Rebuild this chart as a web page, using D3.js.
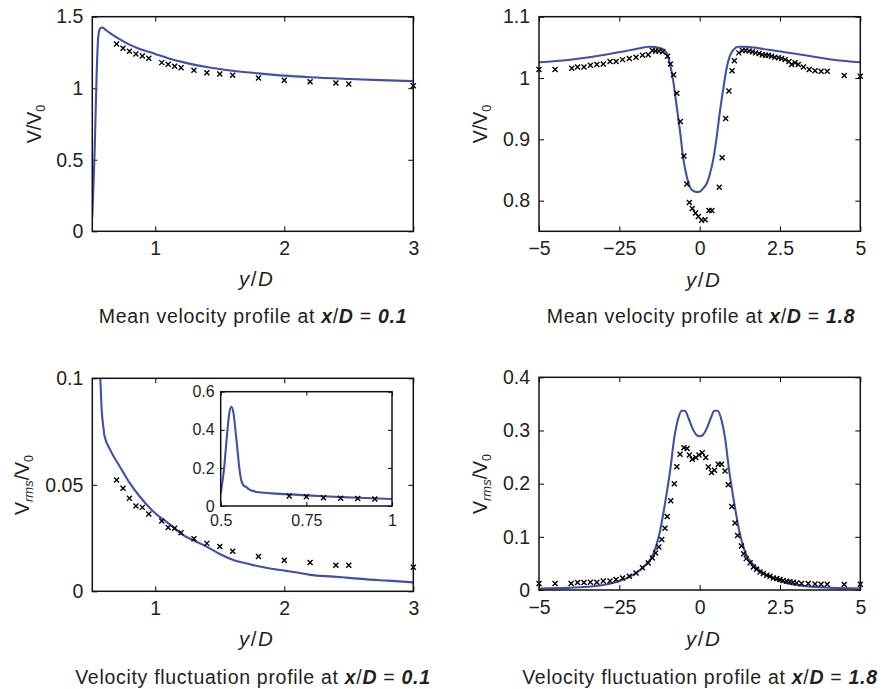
<!DOCTYPE html>
<html><head><meta charset="utf-8">
<script src="https://cdn.jsdelivr.net/npm/d3@7"></script>
<style>
body{margin:0;background:#fff}
svg text{font-family:"Liberation Sans",Arial,Helvetica,sans-serif;fill:#231f20}
</style>
</head><body>
<svg id="c" width="882" height="689"></svg>
<script>
// ---------- DATA ----------
// Panel 1: mean velocity at x/D = 0.1
const meanNearCurve = [[0.512,0.10],[0.53,0.55],[0.545,1.08],[0.555,1.32],[0.565,1.40],[0.575,1.42],[0.59,1.425],[0.61,1.412],[0.65,1.385],[0.71,1.35],[0.8,1.305],[0.87,1.278],[1.0,1.24],[1.1,1.21],[1.2,1.186],[1.3,1.165],[1.4,1.148],[1.5,1.134],[1.6,1.122],[1.8,1.104],[2.0,1.088],[2.2,1.077],[2.5,1.065],[2.8,1.055],[3.0,1.05]];
const meanNearExp = [[0.7,1.309],[0.75,1.279],[0.8,1.258],[0.85,1.239],[0.9,1.225],[0.95,1.209],[1.05,1.179],[1.1,1.167],[1.15,1.153],[1.2,1.144],[1.3,1.125],[1.4,1.109],[1.5,1.100],[1.6,1.091],[1.8,1.072],[2.0,1.056],[2.2,1.046],[2.4,1.037],[2.5,1.030],[3.0,1.018]];

// Panel 2: mean velocity at x/D = 1.8
const meanFarCurve = [[-5,1.0257],[-4.09,1.0295],[-3.05,1.037],[-2.01,1.047],[-1.55,1.051],[-1.23,1.049],[-1.03,1.041],[-0.92,1.022],[-0.82,0.9945],[-0.72,0.956],[-0.61,0.913],[-0.51,0.869],[-0.40,0.839],[-0.30,0.822],[-0.20,0.816],[-0.09,0.814],[0.01,0.815],[0.11,0.820],[0.22,0.828],[0.32,0.844],[0.43,0.869],[0.53,0.904],[0.63,0.945],[0.74,0.984],[0.84,1.016],[0.94,1.036],[1.05,1.046],[1.20,1.051],[1.41,1.051],[2.14,1.046],[3.17,1.038],[4.21,1.0295],[5,1.0257]];
const meanFarExp = [[-5.0,1.0137],[-4.5,1.0137],[-3.98,1.016],[-3.8,1.018],[-3.6,1.018],[-3.4,1.021],[-3.2,1.022],[-3.0,1.023],[-2.79,1.027],[-2.6,1.027],[-2.4,1.030],[-2.19,1.032],[-1.98,1.034],[-1.78,1.037],[-1.6,1.038],[-1.47,1.045],[-1.37,1.044],[-1.27,1.044],[-1.15,1.043],[-1.0,1.0355],[-0.91,1.023],[-0.81,1.0055],[-0.71,0.975],[-0.60,0.929],[-0.49,0.873],[-0.40,0.827],[-0.32,0.797],[-0.23,0.787],[-0.13,0.780],[-0.04,0.774],[0.06,0.768],[0.17,0.769],[0.29,0.784],[0.38,0.784],[0.61,0.822],[0.70,0.870],[0.81,0.934],[0.91,0.979],[1.01,1.012],[1.08,1.028],[1.22,1.041],[1.33,1.045],[1.43,1.045],[1.54,1.044],[1.64,1.043],[1.74,1.041],[1.85,1.040],[1.95,1.038],[2.05,1.037],[2.14,1.037],[2.24,1.0355],[2.34,1.034],[2.45,1.033],[2.55,1.032],[2.66,1.030],[2.78,1.027],[2.86,1.022],[2.97,1.025],[3.07,1.022],[3.23,1.018],[3.41,1.0137],[3.59,1.012],[3.78,1.011],[3.97,1.011],[4.5,1.004],[5.0,1.003]];

// Panel 3 (and inset): velocity fluctuation at x/D = 0.1
const rmsNearCurve = [[0.5,0.066],[0.51,0.2],[0.518,0.364],[0.525,0.486],[0.531,0.521],[0.537,0.49],[0.543,0.40],[0.549,0.294],[0.555,0.19],[0.56,0.135],[0.566,0.11],[0.574,0.1],[0.585,0.085],[0.6,0.076],[0.605,0.0734],[0.65,0.0665],[0.726,0.0585],[0.8,0.051],[0.881,0.0444],[1.0,0.0366],[1.1,0.032],[1.217,0.0264],[1.3,0.0238],[1.398,0.021],[1.5,0.0175],[1.605,0.0147],[1.708,0.0131],[1.81,0.0116],[1.9,0.0106],[2.0,0.0097],[2.1,0.0088],[2.2,0.0077],[2.38,0.0069],[2.5,0.0063],[2.64,0.0056],[2.8,0.005],[3.0,0.0042]];
const rmsNearExp = [[0.7,0.0523],[0.75,0.0484],[0.8,0.0437],[0.85,0.0401],[0.9,0.0394],[0.95,0.0363],[1.05,0.0330],[1.1,0.0300],[1.15,0.0296],[1.2,0.0275],[1.3,0.0247],[1.4,0.0225],[1.5,0.0210],[1.6,0.0188],[1.8,0.0163],[2.0,0.0146],[2.2,0.0135],[2.4,0.0122],[2.5,0.0122],[3.0,0.0113]];

// Panel 4: velocity fluctuation at x/D = 1.8
const rmsFarCurve = [[-5,0.0028],[-4.09,0.004],[-3.05,0.009],[-2.43,0.0184],[-2.01,0.031],[-1.70,0.046],[-1.44,0.068],[-1.23,0.112],[-1.08,0.162],[-0.92,0.224],[-0.79,0.286],[-0.66,0.324],[-0.56,0.337],[-0.46,0.337],[-0.35,0.324],[-0.23,0.305],[-0.11,0.2925],[0,0.289],[0.11,0.2925],[0.23,0.305],[0.35,0.324],[0.46,0.337],[0.56,0.337],[0.66,0.324],[0.79,0.286],[0.92,0.224],[1.08,0.162],[1.23,0.112],[1.44,0.068],[1.70,0.046],[2.01,0.031],[2.43,0.0184],[3.05,0.009],[4.09,0.004],[5,0.0028]];
const rmsFarExp = [[-5,0.0121],[-4.5,0.0121],[-4.0,0.0121],[-3.8,0.014],[-3.6,0.014],[-3.4,0.0146],[-3.2,0.0146],[-3.0,0.0171],[-2.79,0.0171],[-2.6,0.0196],[-2.4,0.0227],[-2.19,0.0259],[-1.98,0.032],[-1.78,0.042],[-1.6,0.0508],[-1.47,0.060],[-1.37,0.0695],[-1.27,0.0807],[-1.18,0.095],[-1.08,0.116],[-1.01,0.138],[-0.90,0.168],[-0.79,0.200],[-0.71,0.232],[-0.61,0.2555],[-0.49,0.2676],[-0.39,0.266],[-0.32,0.254],[-0.23,0.246],[-0.12,0.249],[-0.02,0.254],[0.08,0.258],[0.19,0.249],[0.27,0.2315],[0.37,0.221],[0.46,0.225],[0.58,0.2365],[0.68,0.2365],[0.79,0.224],[0.89,0.198],[1.0,0.157],[1.10,0.126],[1.18,0.1025],[1.30,0.0826],[1.37,0.068],[1.45,0.059],[1.57,0.0514],[1.67,0.0433],[1.77,0.039],[1.88,0.034],[1.98,0.0308],[2.09,0.0277],[2.19,0.0259],[2.29,0.0227],[2.40,0.0215],[2.50,0.0196],[2.60,0.0178],[2.71,0.0165],[2.81,0.0153],[2.91,0.0146],[3.02,0.0134],[3.17,0.0121],[3.38,0.0121],[3.59,0.0115],[3.78,0.0109],[3.97,0.0109],[4.5,0.0103],[5.0,0.0109]];

// Ticks
const nearXTicks = [1,2,3], nearXLabels = ["1","2","3"];
const farXTicks = [-5,-2.5,0,2.5,5], farXLabels = ["\u22125","\u221225","0","2.5","5"];
const meanNearYTicks = [0,0.5,1,1.5], meanNearYLabels = ["0","0.5","1","1.5"];
const meanFarYTicks = [0.8,0.9,1,1.1], meanFarYLabels = ["0.8","0.9","1","1.1"];
const rmsNearYTicks = [0,0.05,0.1], rmsNearYLabels = ["0","0.05","0.1"];
const rmsFarYTicks = [0,0.1,0.2,0.3,0.4], rmsFarYLabels = ["0","0.1","0.2","0.3","0.4"];
const insetXTicks = [0.5,0.75,1], insetXLabels = ["0.5","0.75","1"];
const insetYTicks = [0,0.2,0.4,0.6], insetYLabels = ["0","0.2","0.4","0.6"];

// ---------- DRAW ----------
const svg = d3.select('#c');
const LINE = '#3f50a8';
let clipN = 0;

function panel(o){
  const x = d3.scaleLinear().domain(o.xd).range([o.l,o.r]);
  const y = d3.scaleLinear().domain(o.yd).range([o.b,o.t]);
  const g = svg.append('g');
  const id = 'clip'+(clipN++);
  svg.append('clipPath').attr('id',id).append('rect')
    .attr('x',o.l).attr('y',o.t).attr('width',o.r-o.l).attr('height',o.b-o.t);
  if(o.bg) g.append('rect').attr('x',o.l).attr('y',o.t).attr('width',o.r-o.l).attr('height',o.b-o.t).attr('fill','#fff');
  const fs = o.fs, tl = o.tl;
  const ax = (gen, tr, vals, labs, pad) => {
    const a = g.append('g').attr('transform',tr)
      .call(gen.tickValues(vals).tickFormat((d,i)=>labs? labs[i] : '').tickSizeInner(-tl).tickSizeOuter(0).tickPadding(pad));
    a.select('.domain').remove();
    a.selectAll('line').attr('stroke','#000').attr('stroke-width',1);
    a.selectAll('text').style('font-size',fs+'px').attr('fill','#231f20');
    return a;
  };
  ax(d3.axisBottom(x),`translate(0,${o.b})`,o.xt,o.xl,o.xpad);
  ax(d3.axisTop(x),`translate(0,${o.t})`,o.xt,null,0);
  ax(d3.axisLeft(y),`translate(${o.l},0)`,o.yt,o.yl,o.ypad);
  ax(d3.axisRight(y),`translate(${o.r},0)`,o.yt,null,0);
  // curve
  g.append('path').datum(o.curve)
    .attr('clip-path',`url(#${id})`)
    .attr('fill','none').attr('stroke',LINE).attr('stroke-width',o.lw||2.1)
    .attr('stroke-linejoin','round')
    .attr('d', d3.line().x(d=>x(d[0])).y(d=>y(d[1])).curve(d3.curveMonotoneX));
  // markers
  const s = 2.5;
  g.append('g').selectAll('path').data(o.exp.filter(d=>d[0]>=o.xd[0]-1e-9 && d[0]<=o.xd[1]+1e-9)).join('path')
    .attr('transform',d=>`translate(${x(d[0])},${y(d[1])})`)
    .attr('d',`M${-s},${-s}L${s},${s}M${-s},${s}L${s},${-s}`)
    .attr('stroke','#000').attr('stroke-width',1.4).attr('fill','none');
  // frame
  g.append('rect').attr('x',o.l).attr('y',o.t).attr('width',o.r-o.l).attr('height',o.b-o.t)
    .attr('fill','none').attr('stroke','#111').attr('stroke-width',1.5);
  return {x,y,g};
}

function yDLabel(cx, base){
  const t = svg.append('text').attr('x',cx).attr('y',base).attr('text-anchor','middle').style('font-size','20.5px');
  t.append('tspan').attr('font-style','italic').text('y');
  t.append('tspan').attr('dx',1.5).text('/');
  t.append('tspan').attr('dx',1.5).attr('font-style','italic').text('D');
}
function title(cx, base, pre, val){
  const t = svg.append('text').attr('x',cx).attr('y',base).attr('text-anchor','middle')
    .style('font-size','19.5px').style('letter-spacing','0.7px');
  t.append('tspan').text(pre);
  t.append('tspan').attr('font-weight','bold').attr('font-style','italic').text('x');
  t.append('tspan').text('/');
  t.append('tspan').attr('font-weight','bold').attr('font-style','italic').text('D');
  t.append('tspan').text(' = ');
  t.append('tspan').attr('font-weight','bold').attr('font-style','italic').text(val);
}
function yLabel(bx, cy, rms){
  const t = svg.append('text').attr('transform',`translate(${bx},${cy}) rotate(-90)`)
    .attr('text-anchor','middle').style('font-size','19.5px');
  t.append('tspan').text('V');
  if(rms) t.append('tspan').attr('font-style','italic').attr('baseline-shift','-30%').style('font-size','13px').text('rms');
  t.append('tspan').text('/V');
  t.append('tspan').attr('baseline-shift','-30%').style('font-size','12.5px').text('0');
}

// Panel 1
panel({l:92.3,r:413.3,t:16.7,b:231.3,xd:[0.512,3],yd:[0,1.5],
  xt:nearXTicks,xl:nearXLabels,yt:meanNearYTicks,yl:meanNearYLabels,
  curve:meanNearCurve,exp:meanNearExp,fs:19.5,tl:5,xpad:10,ypad:9});
yLabel(41,124,false);
yDLabel(256,286);
title(253,323,'Mean velocity profile at ','0.1');

// Panel 2
panel({l:539,r:860.3,t:16.7,b:231.3,xd:[-5,5],yd:[0.75,1.1],
  xt:farXTicks,xl:farXLabels,yt:meanFarYTicks,yl:meanFarYLabels,
  curve:meanFarCurve,exp:meanFarExp,fs:19.5,tl:5,xpad:10,ypad:9});
yLabel(487,124,false);
yDLabel(703,287);
title(701,323,'Mean velocity profile at ','1.8');

// Panel 3
panel({l:92.3,r:413.3,t:378.3,b:591.3,xd:[0.512,3],yd:[0,0.1],
  xt:nearXTicks,xl:nearXLabels,yt:rmsNearYTicks,yl:rmsNearYLabels,
  curve:rmsNearCurve,exp:rmsNearExp,fs:19.5,tl:5,xpad:10,ypad:9});
yLabel(29,485,true);
yDLabel(256,646);
title(253,684,'Velocity fluctuation profile at ','0.1');

// Inset
panel({l:220.7,r:392,t:391.7,b:506,xd:[0.5,1],yd:[0,0.6],bg:true,
  xt:insetXTicks,xl:insetXLabels,yt:insetYTicks,yl:insetYLabels,
  curve:rmsNearCurve,exp:rmsNearExp,fs:16,tl:4,xpad:8.6,ypad:6});

// Panel 4
panel({l:539,r:860.3,t:377.3,b:590,xd:[-5,5],yd:[0,0.4],
  xt:farXTicks,xl:farXLabels,yt:rmsFarYTicks,yl:rmsFarYLabels,
  curve:rmsFarCurve,exp:rmsFarExp,fs:19.5,tl:5,xpad:10,ypad:9});
yLabel(487,484,true);
yDLabel(703,646);
title(700,684,'Velocity fluctuation profile at ','1.8');
</script>
</body></html>
